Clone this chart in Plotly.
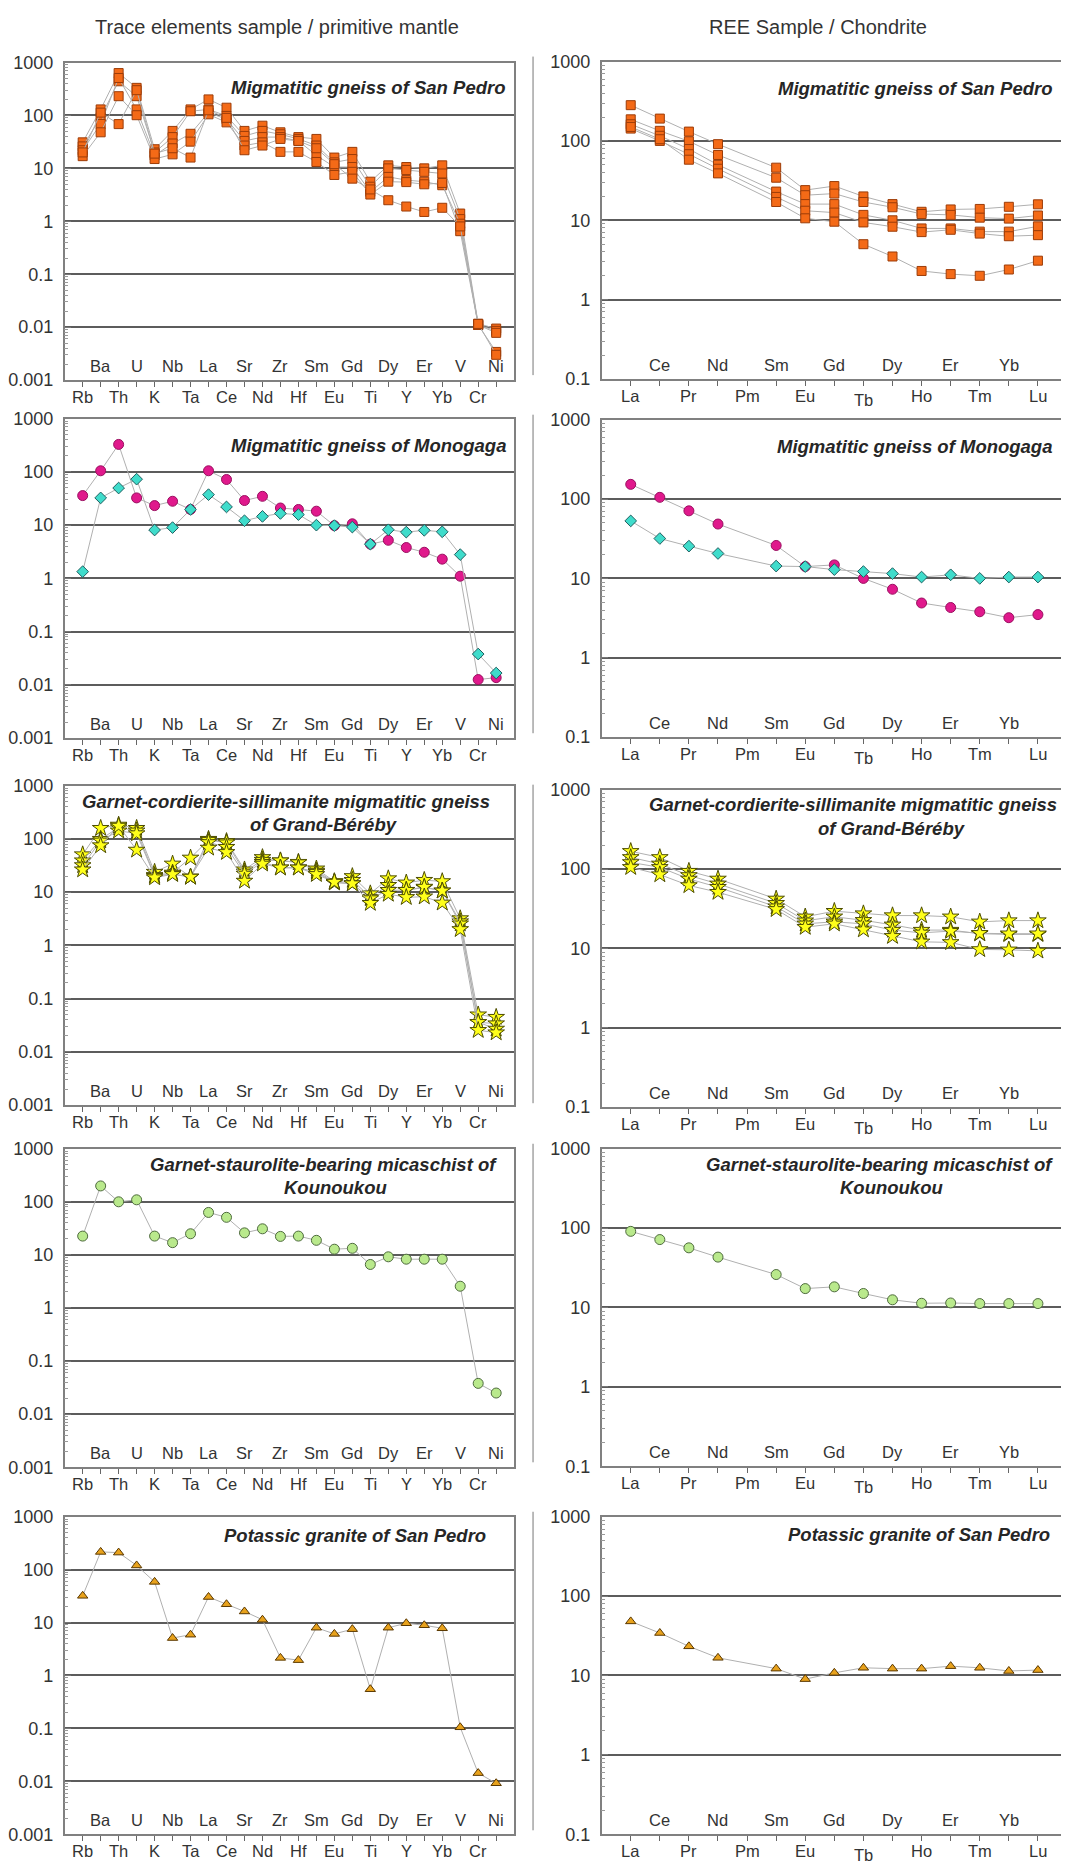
import plotly.graph_objects as go
from plotly.subplots import make_subplots

# ---------------- data ----------------
TRACE_ELEMENTS = ["Rb", "Ba", "Th", "U", "K", "Nb", "Ta", "La", "Ce", "Sr", "Nd", "Zr",
                  "Hf", "Sm", "Eu", "Gd", "Ti", "Dy", "Y", "Er", "Yb", "V", "Cr", "Ni"]
REE_ELEMENTS = ["La", "Ce", "Pr", "Nd", "Pm", "Sm", "Eu", "Gd", "Tb", "Dy", "Ho", "Er",
                "Tm", "Yb", "Lu"]

COLUMN_TITLES = ["Trace elements sample / primitive mantle", "REE Sample / Chondrite"]
PANEL_TITLES = [
    ["Migmatitic gneiss of San Pedro"],
    ["Migmatitic gneiss of Monogaga"],
    ["Garnet-cordierite-sillimanite migmatitic gneiss", "of Grand-Béréby"],
    ["Garnet-staurolite-bearing micaschist of", "Kounoukou"],
    ["Potassic granite of San Pedro"],
]

# Migmatitic gneiss of San Pedro - trace (primitive mantle normalised)
sp_trace_1 = [31, 130, 632, 332, 23, 51, 130, 201, 140, 51, 64, 48, 39, 36, 16, 20.5, 5.6, 11.4, 10.6, 10, 11.4, 1.4, 0.0116, 0.0094]
sp_trace_2 = [26, 91, 442, 231, 20, 39, 120, 130, 98, 41, 51, 44, 36, 27, 13, 15, 4.5, 10, 9.3, 8.6, 8, 1.1, 0.011, 0.0085]
sp_trace_3 = [22, 69, 510, 130, 17.6, 29.5, 45, 113, 85, 33, 39, 39, 33, 17.6, 10.6, 10.6, 3.6, 6.9, 6, 5.6, 4.8, 0.9, 0.011, 0.0078]
sp_trace_4 = [17, 48, 231, 101, 15, 18.4, 32, 105, 74, 27, 31, 20.5, 20.5, 13.2, 7.5, 8.6, 3.2, 5.6, 5.5, 5, 5.3, 0.65, 0.011, 0.0034]
sp_trace_5 = [20, 113, 68.6, 300, 19, 24, 16, 125, 90, 22, 27, 36, 33, 24, 12, 6.4, 4, 2.5, 1.9, 1.5, 1.8, 0.8, 0.0115, 0.003]

# Migmatitic gneiss of San Pedro - REE (chondrite normalised)
sp_ree_1 = [282, 191, 131, 91, None, 46, 24, 27, 20, 16, 12.8, 13.7, 13.9, 14.8, 15.9]
sp_ree_2 = [187, 134, 99, 66.5, None, 34.4, 20.7, 21.7, 17, 14.6, 12, 11.7, 10.8, 10.5, 11.5]
sp_ree_3 = [162, 116, 79, 50, None, 23, 16, 16, 11.7, 10, 7.9, 7.9, 7.2, 7.2, 8.4]
sp_ree_4 = [143, 100, 68, 44.6, None, 19.7, 13.2, 12.5, 9.4, 8.3, 7.1, 7.6, 6.8, 6.3, 6.5]
sp_ree_5 = [150, 105, 58, 39, None, 17, 10.6, 9.6, 5.0, 3.5, 2.3, 2.1, 2.0, 2.4, 3.1]

# Migmatitic gneiss of Monogaga
mg_trace_a = [35.9, 105, 328, 32.5, 23.3, 28.1, 19.7, 105, 72, 29, 34.8, 21, 19.7, 18.3, 9.8, 10.6, 4.4, 5.2, 3.8, 3.1, 2.3, 1.1, 0.0126, 0.0137]
mg_trace_b = [1.34, 32.5, 49.8, 73, 8.1, 9.0, 19.7, 37.4, 22, 12.1, 14.6, 16.6, 15.8, 10, 9.8, 9.2, 4.4, 8.2, 7.4, 8.0, 7.5, 2.8, 0.038, 0.0167]
mg_ree_a = [153, 105, 71, 48.4, None, 26, 14.1, 14.8, 10, 7.3, 4.9, 4.3, 3.8, 3.2, 3.5]
mg_ree_b = [53, 31.8, 25.5, 20.6, None, 14.3, 14.1, 12.9, 12.2, 11.5, 10.4, 11.1, 10, 10.4, 10.4]

# Garnet-cordierite-sillimanite migmatitic gneiss of Grand-Béréby
gb_trace_1 = [50.8, 159, 183, 159, 23.8, 34, 19.3, 99, 90, 26.4, 45, 39, 36.6, 27.5, 15.9, 19.8, 9.4, 18, 15, 16.8, 15.9, 3.2, 0.05, 0.045]
gb_trace_2 = [39, 99, 163, 142, 20.7, 23, 44, 95, 85, 24, 40, 39, 36, 25, 15.5, 16.8, 8, 13.5, 10.9, 12.2, 10.6, 2.8, 0.036, 0.034]
gb_trace_3 = [31.7, 92, 142, 126, 20, 22, 19.3, 86, 70, 22, 36.6, 28.7, 28.7, 23.8, 15, 14.5, 7.6, 10.9, 10.9, 12.5, 10.6, 2.55, 0.036, 0.027]
gb_trace_4 = [26.4, 75, 175, 62, 18.8, 21.6, 19.3, 67.6, 56, 16.2, 34, 28.7, 28.7, 21.6, 15.5, 14.5, 6.2, 9.2, 8.0, 8.2, 6.3, 2.0, 0.0255, 0.023]
gb_ree_1 = [167, 140, 94, 75, None, 42, 25, 29.4, 27.4, 25.9, 25.9, 25, 21.6, 22.4, 22.4]
gb_ree_2 = [140, 116, 83, 65, None, 37, 22.3, 25, 22.6, 19.8, 17, 17, 15.3, 15, 15]
gb_ree_3 = [121, 105, 75, 59, None, 33.5, 20.4, 21.6, 20.4, 17, 15.7, 16.5, 15.5, 15.3, 15.3]
gb_ree_4 = [105, 85, 62, 51, None, 31, 18.5, 20.4, 17.2, 14.2, 12.1, 11.9, 9.7, 9.6, 9.3]

# Garnet-staurolite-bearing micaschist of Kounoukou
kn_trace = [22.6, 199, 100, 109, 22.6, 17, 25, 63, 51, 26, 31, 22.3, 22.6, 18.8, 12.8, 13.3, 6.6, 9.2, 8.3, 8.3, 8.3, 2.57, 0.038, 0.025]
kn_ree = [91, 71.7, 56.4, 43.1, None, 26, 17.3, 18.2, 15, 12.5, 11.3, 11.4, 11.2, 11.2, 11.2]

# Potassic granite of San Pedro
pg_trace = [32, 216, 210, 120, 58.7, 5.1, 5.9, 30.4, 22.2, 16.2, 11.3, 2.15, 1.95, 8.0, 6.1, 7.5, 0.55, 8.0, 9.7, 8.9, 7.8, 0.105, 0.0143, 0.0092]
pg_ree = [48, 34.3, 23.3, 16.7, None, 12.2, 9.0, 10.8, 12.5, 12.2, 12.2, 13.1, 12.5, 11.4, 11.7]

# ---------------- styles ----------------
PAGE_OFF = 8                      # browser default body margin
W, H = 1069 - PAGE_OFF, 1868 - PAGE_OFF
FONT = "Liberation Sans, Arial, sans-serif"
TXT = "#333333"
LINE = "#b0b0b0"

SQUARE = dict(symbol="square", size=9, color="#f46a17", line=dict(color="#9c3c08", width=1))
MAG = dict(symbol="circle", size=10, color="#e0198c", line=dict(color="#9a0f60", width=1))
CYAN = dict(symbol="diamond", size=9, color="#3fdccb", line=dict(color="#1f5f60", width=1))
STAR = dict(symbol="star", size=12.5, color="#ffff1a", line=dict(color="#4d4d00", width=1))
GREEN = dict(symbol="circle", size=10, color="#b9e98c", line=dict(color="#4f6b3f", width=1))
TRI = dict(symbol="triangle-up", size=9, color="#e8a21c", line=dict(color="#5a3800", width=1))

rows = [
    ([sp_trace_1, sp_trace_2, sp_trace_3, sp_trace_4, sp_trace_5], [SQUARE] * 5,
     [sp_ree_1, sp_ree_2, sp_ree_3, sp_ree_4, sp_ree_5], [SQUARE] * 5),
    ([mg_trace_a, mg_trace_b], [MAG, CYAN], [mg_ree_a, mg_ree_b], [MAG, CYAN]),
    ([gb_trace_1, gb_trace_2, gb_trace_3, gb_trace_4], [STAR] * 4,
     [gb_ree_1, gb_ree_2, gb_ree_3, gb_ree_4], [STAR] * 4),
    ([kn_trace], [GREEN], [kn_ree], [GREEN]),
    ([pg_trace], [TRI], [pg_ree], [TRI]),
]

# panel pixel boxes in page coordinates
LEFT_X = (60, 512)
RIGHT_X = (600, 1068)
LEFT_Y = [(53, 374), (413, 736), (784, 1107), (1151, 1473), (1523, 1844)]
RIGHT_Y = [(52, 373), (414, 735), (788, 1109), (1151, 1472), (1523, 1844)]

# title positions (page px): list of (x, y, anchor)
TITLE_POS = [
    ([(505, 78, "right")], [(1055, 79, "right")]),
    ([(506, 440, "right")], [(1055, 441, "right")]),
    ([(283, 800, "center"), (321, 823, "center")], [(853, 803, "center"), (892, 827, "center")]),
    ([(320, 1167, "center"), (332, 1190, "center")], [(879, 1167, "center"), (891, 1190, "center")]),
    ([(486, 1542, "right")], [(1053, 1541, "right")]),
]

fig = make_subplots(rows=5, cols=2)
annotations = []
shapes = []

def px_x(p):
    return (p - PAGE_OFF) / W

def px_y(p):
    return 1 - (p - PAGE_OFF) / H

for r, (tr_sets, tr_styles, ree_sets, ree_styles) in enumerate(rows):
    for c in range(2):
        n = 2 * r + c + 1
        cats = TRACE_ELEMENTS if c == 0 else REE_ELEMENTS
        sets = tr_sets if c == 0 else ree_sets
        styles = tr_styles if c == 0 else ree_styles
        for vals, st in zip(sets, styles):
            fig.add_trace(go.Scatter(
                x=cats, y=vals, mode="lines+markers", connectgaps=True,
                line=dict(color=LINE, width=1), marker=st, showlegend=False,
                hoverinfo="x+y"), row=r + 1, col=c + 1)

        xx = LEFT_X if c == 0 else RIGHT_X
        yy = LEFT_Y[r] if c == 0 else RIGHT_Y[r]
        xname = "xaxis" if n == 1 else f"xaxis{n}"
        yname = "yaxis" if n == 1 else f"yaxis{n}"
        fig.layout[xname].update(
            domain=[px_x(xx[0]), min(1.0, px_x(xx[1]))], type="category",
            categoryorder="array", categoryarray=cats,
            range=[-1, len(cats)], tickvals=cats, showticklabels=False,
            ticks="outside", ticklen=5, tickcolor="#666", tickwidth=1,
            showline=True, linecolor="#808080", linewidth=1.5, mirror=True,
            showgrid=False, zeroline=False, fixedrange=True)
        fig.layout[yname].update(
            domain=[px_y(yy[1]), px_y(yy[0])], type="log",
            range=[-3, 3] if c == 0 else [-1, 3], dtick=1,
            exponentformat="none", showgrid=True, gridcolor="#5c5c5c", gridwidth=1.5,
            ticks="inside", ticklen=7, tickcolor="#777", tickwidth=1,
            minor=dict(ticks="inside", ticklen=4, tickcolor="#999", dtick="D1", showgrid=False),
            showline=True, linecolor="#808080", linewidth=1.5, mirror=True,
            tickfont=dict(size=18, color=TXT, family=FONT), ticklabelstandoff=6,
            zeroline=False, fixedrange=True)

        # category labels: even below axis, odd inside plot
        xref = "x" if n == 1 else f"x{n}"
        for i, name in enumerate(cats):
            if i % 2 == 0:
                off = 17 + (4 if name == "Tb" else 0)
                ypos = px_y(yy[1] + off)
            else:
                ypos = px_y(yy[1] - 14)
            annotations.append(dict(
                x=name, xref=xref, y=ypos, yref="paper", text=name, showarrow=False,
                xanchor="center", yanchor="middle",
                font=dict(size=16.5, color=TXT, family=FONT)))

        # panel title
        for line_txt, (tx, ty, anc) in zip(PANEL_TITLES[r], TITLE_POS[r][c]):
            annotations.append(dict(
                x=px_x(tx), y=px_y(ty), xref="paper", yref="paper",
                text=f"<b><i>{line_txt}</i></b>", showarrow=False,
                xanchor=anc, yanchor="middle",
                font=dict(size=18.5, color="#262626", family=FONT)))

    # thin vertical frame line at left of REE column
    shapes.append(dict(type="line", xref="paper", yref="paper",
                       x0=px_x(531), x1=px_x(531),
                       y0=px_y(RIGHT_Y[r][0] - 5), y1=px_y(RIGHT_Y[r][1] - 4),
                       line=dict(color="#777", width=1)))

# column titles
annotations.append(dict(x=px_x(274), y=px_y(17), xref="paper", yref="paper",
                        text=COLUMN_TITLES[0], showarrow=False, xanchor="center",
                        yanchor="middle", font=dict(size=20, color=TXT, family=FONT)))
annotations.append(dict(x=px_x(818), y=px_y(17), xref="paper", yref="paper",
                        text=COLUMN_TITLES[1], showarrow=False, xanchor="center",
                        yanchor="middle", font=dict(size=20, color=TXT, family=FONT)))

fig.update_layout(
    width=W, height=H, margin=dict(l=0, r=0, t=0, b=0),
    paper_bgcolor="white", plot_bgcolor="white",
    font=dict(family=FONT, color=TXT),
    annotations=annotations, shapes=shapes, showlegend=False)

fig.write_html("out.html")
